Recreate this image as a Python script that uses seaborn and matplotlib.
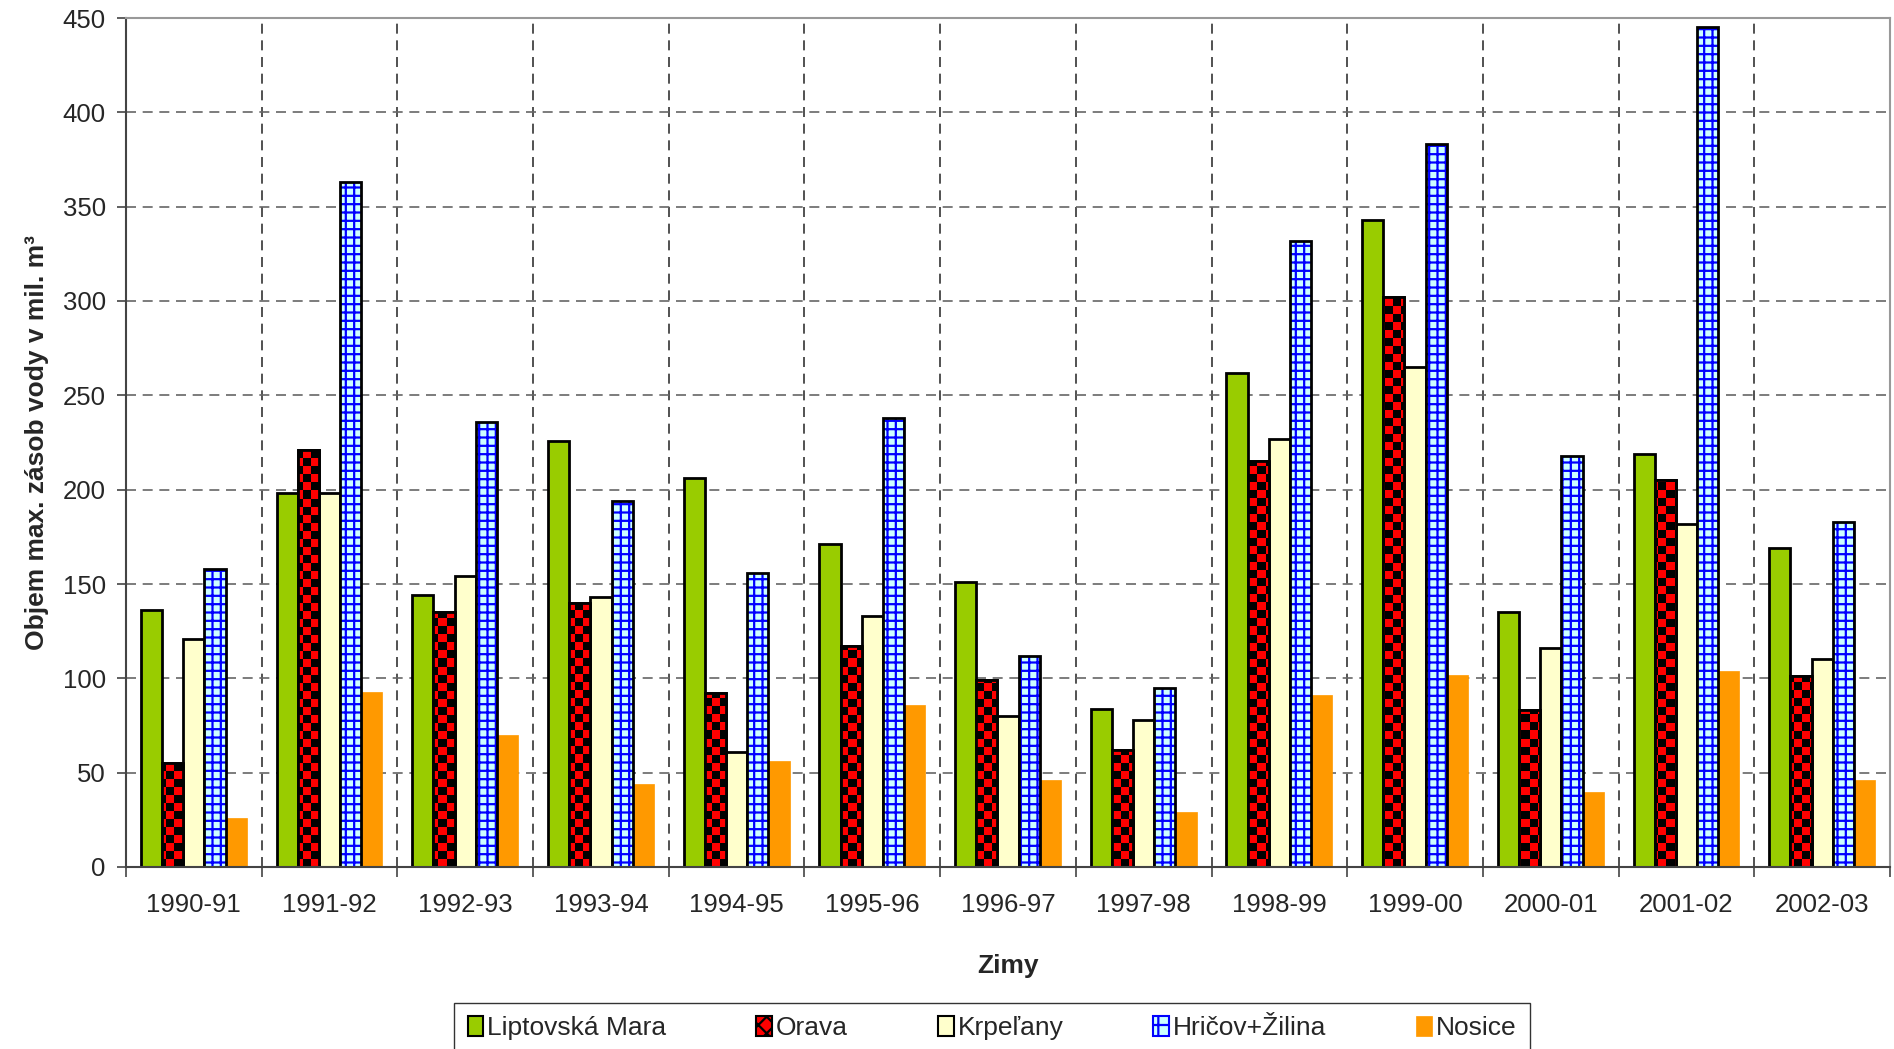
import numpy as np
import pandas as pd
import matplotlib
matplotlib.use('Agg')
import matplotlib.pyplot as plt
import seaborn as sns
from matplotlib.patches import Patch, Rectangle
from matplotlib.colors import ListedColormap

# data
zimy = ['1990-91', '1991-92', '1992-93', '1993-94', '1994-95', '1995-96', '1996-97',
        '1997-98', '1998-99', '1999-00', '2000-01', '2001-02', '2002-03']
nadrze = ['Liptovská Mara', 'Orava', 'Krpeľany', 'Hričov+Žilina', 'Nosice']
liptovska_mara = [136, 198, 144, 226, 206, 171, 151, 84, 262, 343, 135, 219, 169]
orava = [55, 221, 135, 140, 92, 117, 99, 62, 215, 302, 83, 205, 101]
krpelany = [121, 198, 154, 143, 61, 133, 80, 78, 227, 265, 116, 182, 110]
hricov_zilina = [158, 363, 236, 194, 156, 238, 112, 95, 332, 383, 218, 445, 183]
nosice = [26, 93, 70, 44, 56, 86, 46, 29, 91, 102, 40, 104, 46]

df = pd.DataFrame({
    'zima': zimy * 5,
    'nadrz': [n for n in nadrze for _ in zimy],
    'objem': liptovska_mara + orava + krpelany + hricov_zilina + nosice,
})

farby = ['#99CC00', '#FF0000', '#FFFFCC', '#CCFFFF', '#FF9900']

sns.set_style('white')
plt.rcParams['font.family'] = ['Liberation Sans', 'DejaVu Sans']
plt.rcParams['hatch.linewidth'] = 1.6

fig = plt.figure(figsize=(18.94, 10.49), dpi=100)
ax = fig.add_axes([126 / 1894, 1 - 867 / 1049, (1890 - 126) / 1894, (867 - 18) / 1049])

sns.barplot(data=df, x='zima', y='objem', hue='nadrz', hue_order=nadrze,
            palette=farby, saturation=1, width=0.78, ax=ax, legend=False)

# styling of each series
cont = ax.containers
for b in cont[0]:
    b.set_edgecolor('black'); b.set_linewidth(2)
for b in cont[2]:
    b.set_edgecolor('black'); b.set_linewidth(2)
for b in cont[4]:
    b.set_edgecolor('#FF9900'); b.set_linewidth(0.5)
for b in cont[3]:
    b.set_edgecolor('#0000FF'); b.set_hatch('++'); b.set_linewidth(0)
    ax.add_patch(Rectangle(b.get_xy(), b.get_width(), b.get_height(),
                           fill=False, edgecolor='black', lw=2, zorder=b.get_zorder() + 0.1))

# checkerboard for Orava
nx, ny = 1764 // 8, 849 // 8
checker = np.indices((ny, nx)).sum(axis=0) % 2
for b in cont[1]:
    b.set_edgecolor('black'); b.set_linewidth(2)
    im = ax.imshow(checker, cmap=ListedColormap(['#FF0000', '#000000']), interpolation='nearest',
                   extent=(0, 1, 0, 1), transform=ax.transAxes, aspect='auto',
                   zorder=b.get_zorder() + 0.05)
    im.set_clip_path(b)
    ax.add_patch(Rectangle(b.get_xy(), b.get_width(), b.get_height(),
                           fill=False, edgecolor='black', lw=2, zorder=b.get_zorder() + 0.1))
ax.set_xlim(-0.5, len(zimy) - 0.5)
ax.set_ylim(0, 450)

# grid and ticks
ax.set_yticks(np.arange(0, 451, 50))
ax.set_xticks(np.arange(-0.5, len(zimy), 1), minor=True)
ax.grid(axis='y', which='major', linestyle=(0, (6, 4)), color='#666666', linewidth=1.2)
ax.grid(axis='x', which='minor', linestyle=(0, (6, 4)), color='#333333', linewidth=1.2)
ax.set_axisbelow(True)
ax.tick_params(axis='x', which='major', length=0, pad=19, labelsize=18.5)
ax.tick_params(axis='x', which='minor', length=7, width=1.2, color='#444444', direction='out')
ax.tick_params(axis='y', length=6.5, width=1.2, color='#444444', direction='out', labelsize=18.5, pad=8)
ax.xaxis.set_tick_params(bottom=True, which='both')
ax.yaxis.set_tick_params(left=True)

for s in ['left', 'bottom']:
    ax.spines[s].set_color('#444444'); ax.spines[s].set_linewidth(1.5)
for s in ['top', 'right']:
    ax.spines[s].set_color('#999999'); ax.spines[s].set_linewidth(1.5)
    ax.spines[s].set_visible(True)

ax.set_xlabel('Zimy', fontsize=19, fontweight='bold', labelpad=26)
ax.set_ylabel('Objem max. zásob vody v mil. m³', fontsize=19, fontweight='bold', labelpad=10)

handles = [
    Patch(facecolor='#99CC00', edgecolor='black', lw=1.5),
    Patch(facecolor='#FF0000', edgecolor='black', lw=1.5, hatch='xx'),
    Patch(facecolor='#FFFFCC', edgecolor='black', lw=1.5),
    Patch(facecolor='#CCFFFF', edgecolor='#0000FF', lw=1.5, hatch='+'),
    Patch(facecolor='#FF9900', edgecolor='#FF9900', lw=0.5),
]
leg = fig.legend(handles, nadrze, loc='upper center', bbox_to_anchor=(992 / 1894, 1 - 1003 / 1049),
                 ncol=5, fontsize=19, frameon=True, fancybox=False, edgecolor='black',
                 handlelength=0.6, handleheight=0.8, handletextpad=0.15, columnspacing=3.4,
                 borderpad=0.5, borderaxespad=0)
leg.get_frame().set_linewidth(1.0)

fig.savefig('out.png', dpi=100)
